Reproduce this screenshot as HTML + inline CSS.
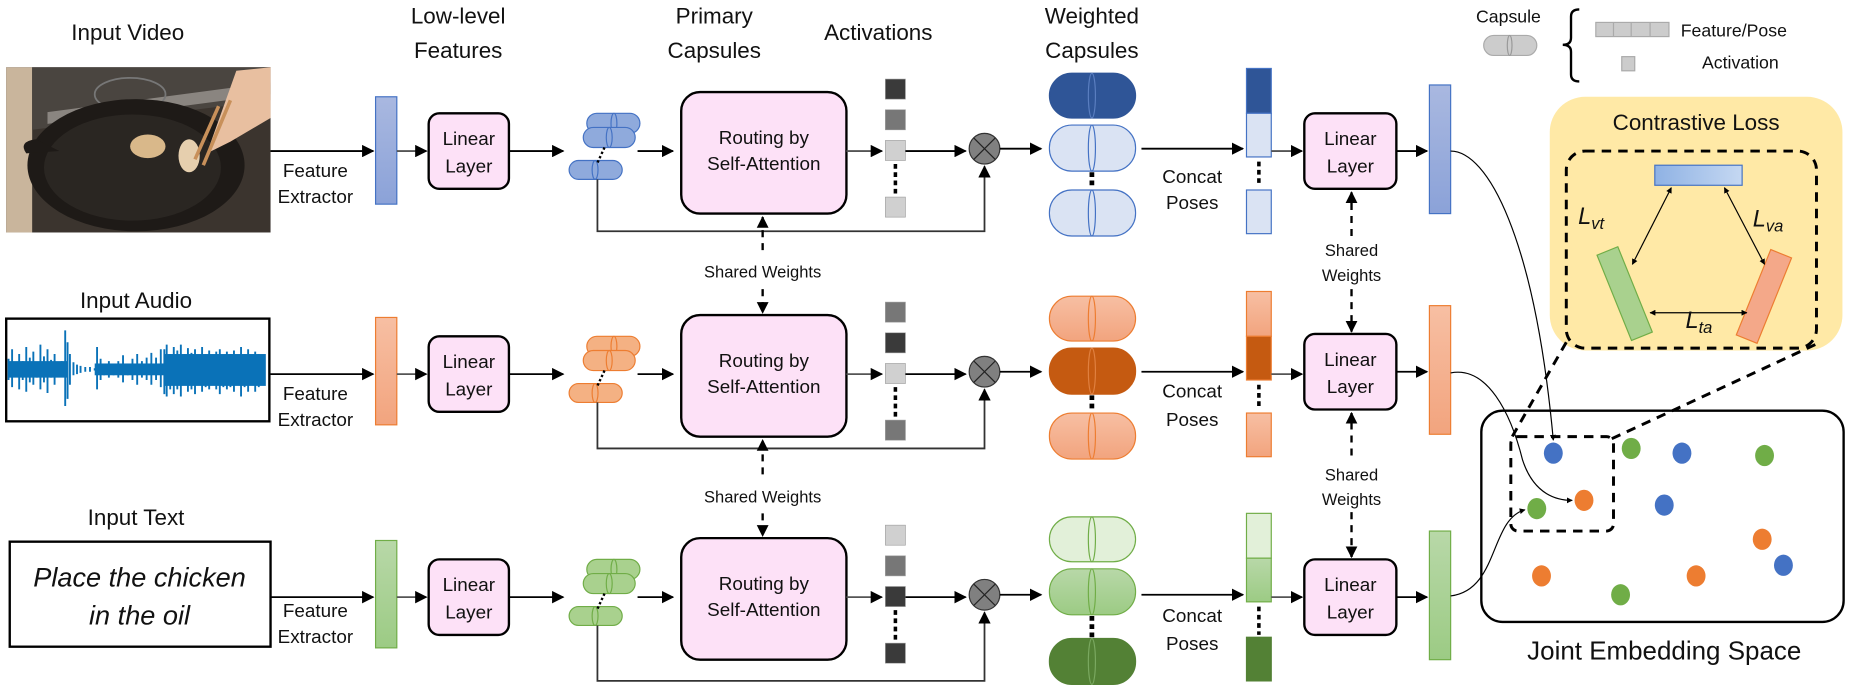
<!DOCTYPE html>
<html><head><meta charset="utf-8"><style>
html,body{margin:0;padding:0;background:#fff;width:1851px;height:688px;overflow:hidden}
svg{display:block}
text{font-family:"Liberation Sans",sans-serif;fill:#111}
</style></head><body>
<svg width="1851" height="688" viewBox="0 0 1568 583" xmlns="http://www.w3.org/2000/svg">
<defs>
<marker id="a" viewBox="0 0 10 10" refX="9" refY="5" markerWidth="7" markerHeight="7" orient="auto-start-reverse"><path d="M0,0L10,5L0,10z" fill="#000"/></marker>
<marker id="s" viewBox="0 0 10 10" refX="9" refY="5" markerWidth="5" markerHeight="5" orient="auto-start-reverse"><path d="M0,0L10,5L0,10z" fill="#000"/></marker>
<linearGradient id="gb" x1="0" y1="0" x2="0" y2="1"><stop offset="0" stop-color="#A9B8E0"/><stop offset="1" stop-color="#8BA2D8"/></linearGradient>
<linearGradient id="go" x1="0" y1="0" x2="0" y2="1"><stop offset="0" stop-color="#F7BFA3"/><stop offset="1" stop-color="#F2A47E"/></linearGradient>
<linearGradient id="gg" x1="0" y1="0" x2="0" y2="1"><stop offset="0" stop-color="#B8D8A8"/><stop offset="1" stop-color="#9CCB84"/></linearGradient>
<linearGradient id="gh" x1="0" y1="0" x2="1" y2="0"><stop offset="0" stop-color="#8FB2E4"/><stop offset="1" stop-color="#C5D8F2"/></linearGradient>
</defs>

<g font-size="19" text-anchor="middle">
<text x="108" y="34">Input Video</text>
<text x="388" y="20">Low-level</text><text x="388" y="49">Features</text>
<text x="605" y="20">Primary</text><text x="605" y="49">Capsules</text>
<text x="744" y="34">Activations</text>
<text x="925" y="20">Weighted</text><text x="925" y="49">Capsules</text>
<text x="115" y="261">Input Audio</text>
<text x="115" y="445">Input Text</text>
</g>

<rect x="5" y="57" width="224" height="140" fill="#3b342e"/>
<rect x="5" y="57" width="22" height="140" fill="#c9b59c"/>
<path d="M27 57 L229 57 L229 85 L27 110z" fill="#4a4540"/>
<path d="M40 95 L229 70 L229 80 L40 105z" fill="#8a8580"/>
<ellipse cx="110" cy="80" rx="30" ry="14" fill="none" stroke="#777" stroke-width="1.5"/>
<ellipse cx="115" cy="140" rx="92" ry="56" fill="#1e1a17"/>
<ellipse cx="112" cy="142" rx="75" ry="45" fill="#2a2622"/>
<path d="M22 130 Q15 120 30 118 L50 128z" fill="#1e1a17"/>
<ellipse cx="125" cy="124" rx="15" ry="10" fill="#d9b88a"/>
<ellipse cx="160" cy="132" rx="9" ry="14" fill="#e6cfae"/>
<path d="M175 130 L200 60 L229 57 L229 100 L195 120z" fill="#e8bfa0"/>
<line x1="172" y1="140" x2="195" y2="85" stroke="#c8905a" stroke-width="3"/>
<line x1="165" y1="135" x2="185" y2="90" stroke="#c8905a" stroke-width="3"/>

<rect x="5" y="270" width="223" height="87" fill="#fff" stroke="#000" stroke-width="2"/>
<g stroke="#0A72B8" stroke-width="1.6">
<path d="M7 304V322M10 296V328M13 308V318M16 300V330M19 306V322M22 294V332M25 303V324M28 298V326M31 307V320M34 292V330M37 302V324M40 296V333M43 305V320M46 300V326M49 309V318M52 306V319M55 280V344M57 290V338M59 300V326M62 307V318M65 309V317M68 310V316M72 311V315M76 311V315M80 312V314M82 294V330M85 304V322M88 308V318M92 306V320M96 309V318M100 306V320M104 301V324M108 308V318M112 304V322M116 300V326M120 306V320M124 303V322M128 299V326M132 303V322M136 296V328M139 296V334M141 292V336M144 300V330M147 294V334M150 297V330M153 292V336M156 300V326M159 295V332M162 299V330M165 296V334M168 302V326M171 294V332M174 300V328M177 297V330M180 302V326M183 298V330M186 296V334M189 302V328M192 298V330M195 300V328M198 297V332M201 302V326M204 294V336M207 300V328M210 296V332M213 302V326M216 298V332M219 300V328M222 302V324"/>
</g>
<rect x="139" y="300" width="86" height="27" fill="#0A72B8"/>
<rect x="7" y="306" width="50" height="14" fill="#0A72B8"/>
<rect x="80" y="308" width="60" height="10" fill="#0A72B8"/>

<rect x="8" y="459" width="221" height="89" fill="#fff" stroke="#000" stroke-width="2"/>
<g font-size="23" font-style="italic" text-anchor="middle"><text x="118" y="497">Place the chicken</text><text x="118" y="529">in the oil</text></g>

<g font-size="16" text-anchor="middle">
<g>
<line x1="229" y1="128" x2="316" y2="128" stroke="#000" stroke-width="1.5" marker-end="url(#a)"/>
<text x="267" y="150">Feature</text><text x="267" y="172">Extractor</text>
<rect x="318" y="82" width="18" height="91" fill="url(#gb)" stroke="#4472C4"/>
<line x1="336" y1="128" x2="361" y2="128" stroke="#555" stroke-width="1.5" marker-end="url(#a)"/>
<rect x="363" y="96" width="68" height="64" rx="9" fill="#FDE1F7" stroke="#000" stroke-width="2"/>
<text x="397" y="123">Linear</text><text x="397" y="146">Layer</text>
<line x1="431" y1="128" x2="477" y2="128" stroke="#000" stroke-width="1.5" marker-end="url(#a)"/>
<rect x="497" y="96" width="45" height="17" rx="8.5" fill="#8FAADC" stroke="#4472C4"/><ellipse cx="520" cy="104.5" rx="2.5" ry="8.5" fill="none" stroke="#4472C4"/>
<rect x="494" y="108" width="44" height="17" rx="8.5" fill="#8FAADC" stroke="#4472C4"/><ellipse cx="516" cy="116.5" rx="2.5" ry="8.5" fill="none" stroke="#4472C4"/>
<rect x="482" y="136" width="45" height="16" rx="8" fill="#8FAADC" stroke="#4472C4"/><ellipse cx="504" cy="144" rx="2.5" ry="8" fill="none" stroke="#4472C4"/>
<line x1="512" y1="125" x2="506" y2="138" stroke="#000" stroke-width="2" stroke-dasharray="2 2"/>
<line x1="540" y1="128" x2="570" y2="128" stroke="#000" stroke-width="1.5" marker-end="url(#a)"/>
<rect x="577" y="78" width="140" height="103" rx="16" fill="#FDE1F7" stroke="#000" stroke-width="2"/>
<text x="647" y="122">Routing by</text><text x="647" y="144">Self-Attention</text>
<line x1="717" y1="128" x2="747" y2="128" stroke="#555" stroke-width="1.5" marker-end="url(#a)"/>
<rect x="750" y="67" width="17" height="17" fill="#3a3a3a" stroke="#999" stroke-width=".5"/>
<rect x="750" y="93" width="17" height="17" fill="#777" stroke="#999" stroke-width=".5"/>
<rect x="750" y="119" width="17" height="17" fill="#d0d0d0" stroke="#999" stroke-width=".5"/>
<line x1="758.5" y1="139" x2="758.5" y2="164" stroke="#000" stroke-width="3" stroke-dasharray="4 3"/>
<rect x="750" y="167" width="17" height="17" fill="#d0d0d0" stroke="#999" stroke-width=".5"/>
<line x1="767" y1="128" x2="818" y2="128" stroke="#000" stroke-width="1.5" marker-end="url(#a)"/>
<circle cx="834" cy="126" r="13" fill="#808080" stroke="#333"/><path d="M825 117L843 135M843 117L825 135" stroke="#222" stroke-width="1"/>
<polyline points="506,152 506,196 834,196 834,141" fill="none" stroke="#333" stroke-width="1.5" marker-end="url(#a)"/>
<line x1="847" y1="126" x2="882" y2="126" stroke="#000" stroke-width="1.5" marker-end="url(#a)"/>
<rect x="889" y="62" width="73" height="38" rx="19" fill="#2F5597" stroke="#2F5597"/><ellipse cx="925" cy="81" rx="3" ry="19" fill="none" stroke="#5a7ec0"/>
<rect x="889" y="106" width="73" height="39" rx="19" fill="#DAE3F3" stroke="#4472C4"/><ellipse cx="925" cy="125.5" rx="3" ry="19.5" fill="none" stroke="#4472C4"/>
<line x1="925" y1="146" x2="925" y2="160" stroke="#000" stroke-width="4" stroke-dasharray="4 3"/>
<rect x="889" y="161" width="73" height="39" rx="19" fill="#DAE3F3" stroke="#4472C4"/><ellipse cx="925" cy="180.5" rx="3" ry="19.5" fill="none" stroke="#4472C4"/>
<text x="1010" y="155">Concat</text><text x="1010" y="177">Poses</text>
<line x1="967" y1="126" x2="1053" y2="126" stroke="#000" stroke-width="1.5" marker-end="url(#a)"/>
<rect x="1056" y="58" width="21" height="38" fill="#2F5597" stroke="#4472C4"/>
<rect x="1056" y="96" width="21" height="37" fill="#DAE3F3" stroke="#4472C4"/>
<line x1="1066.5" y1="137" x2="1066.5" y2="158" stroke="#000" stroke-width="3" stroke-dasharray="4 3"/>
<rect x="1056" y="161" width="21" height="37" fill="#DAE3F3" stroke="#4472C4"/>
<line x1="1077" y1="128" x2="1103" y2="128" stroke="#555" stroke-width="1.5" marker-end="url(#a)"/>
<rect x="1105" y="96" width="78" height="64" rx="9" fill="#FDE1F7" stroke="#000" stroke-width="2"/>
<text x="1144" y="123">Linear</text><text x="1144" y="146">Layer</text>
<line x1="1183" y1="128" x2="1209" y2="128" stroke="#000" stroke-width="1.5" marker-end="url(#a)"/>
<rect x="1211" y="72" width="18" height="109" fill="url(#gb)" stroke="#4472C4"/>
</g>

<g transform="translate(0,189)">
<line x1="229" y1="128" x2="316" y2="128" stroke="#000" stroke-width="1.5" marker-end="url(#a)"/>
<text x="267" y="150">Feature</text><text x="267" y="172">Extractor</text>
<rect x="318" y="80" width="18" height="91" fill="url(#go)" stroke="#ED7D31"/>
<line x1="336" y1="128" x2="361" y2="128" stroke="#555" stroke-width="1.5" marker-end="url(#a)"/>
<rect x="363" y="96" width="68" height="64" rx="9" fill="#FDE1F7" stroke="#000" stroke-width="2"/>
<text x="397" y="123">Linear</text><text x="397" y="146">Layer</text>
<line x1="431" y1="128" x2="477" y2="128" stroke="#000" stroke-width="1.5" marker-end="url(#a)"/>
<rect x="497" y="96" width="45" height="17" rx="8.5" fill="#F4B183" stroke="#ED7D31"/><ellipse cx="520" cy="104.5" rx="2.5" ry="8.5" fill="none" stroke="#ED7D31"/>
<rect x="494" y="108" width="44" height="17" rx="8.5" fill="#F4B183" stroke="#ED7D31"/><ellipse cx="516" cy="116.5" rx="2.5" ry="8.5" fill="none" stroke="#ED7D31"/>
<rect x="482" y="136" width="45" height="16" rx="8" fill="#F4B183" stroke="#ED7D31"/><ellipse cx="504" cy="144" rx="2.5" ry="8" fill="none" stroke="#ED7D31"/>
<line x1="512" y1="125" x2="506" y2="138" stroke="#000" stroke-width="2" stroke-dasharray="2 2"/>
<line x1="540" y1="128" x2="570" y2="128" stroke="#000" stroke-width="1.5" marker-end="url(#a)"/>
<rect x="577" y="78" width="140" height="103" rx="16" fill="#FDE1F7" stroke="#000" stroke-width="2"/>
<text x="647" y="122">Routing by</text><text x="647" y="144">Self-Attention</text>
<line x1="717" y1="128" x2="747" y2="128" stroke="#555" stroke-width="1.5" marker-end="url(#a)"/>
<rect x="750" y="67" width="17" height="17" fill="#777" stroke="#999" stroke-width=".5"/>
<rect x="750" y="93" width="17" height="17" fill="#3a3a3a" stroke="#999" stroke-width=".5"/>
<rect x="750" y="119" width="17" height="17" fill="#d0d0d0" stroke="#999" stroke-width=".5"/>
<line x1="758.5" y1="139" x2="758.5" y2="164" stroke="#000" stroke-width="3" stroke-dasharray="4 3"/>
<rect x="750" y="167" width="17" height="17" fill="#777" stroke="#999" stroke-width=".5"/>
<line x1="767" y1="128" x2="818" y2="128" stroke="#000" stroke-width="1.5" marker-end="url(#a)"/>
<circle cx="834" cy="126" r="13" fill="#808080" stroke="#333"/><path d="M825 117L843 135M843 117L825 135" stroke="#222" stroke-width="1"/>
<polyline points="506,152 506,191 834,191 834,141" fill="none" stroke="#333" stroke-width="1.5" marker-end="url(#a)"/>
<line x1="847" y1="126" x2="882" y2="126" stroke="#000" stroke-width="1.5" marker-end="url(#a)"/>
<rect x="889" y="62" width="73" height="38" rx="19" fill="url(#go)" stroke="#ED7D31"/><ellipse cx="925" cy="81" rx="3" ry="19" fill="none" stroke="#ED7D31"/>
<rect x="889" y="106" width="73" height="39" rx="19" fill="#C55A11" stroke="#C55A11"/><ellipse cx="925" cy="125.5" rx="3" ry="19.5" fill="none" stroke="#E08040"/>
<line x1="925" y1="146" x2="925" y2="160" stroke="#000" stroke-width="4" stroke-dasharray="4 3"/>
<rect x="889" y="161" width="73" height="39" rx="19" fill="url(#go)" stroke="#ED7D31"/><ellipse cx="925" cy="180.5" rx="3" ry="19.5" fill="none" stroke="#ED7D31"/>
<text x="1010" y="148">Concat</text><text x="1010" y="172">Poses</text>
<line x1="967" y1="126" x2="1053" y2="126" stroke="#000" stroke-width="1.5" marker-end="url(#a)"/>
<rect x="1056" y="58" width="21" height="38" fill="url(#go)" stroke="#ED7D31"/>
<rect x="1056" y="96" width="21" height="37" fill="#C55A11" stroke="#ED7D31"/>
<line x1="1066.5" y1="137" x2="1066.5" y2="158" stroke="#000" stroke-width="3" stroke-dasharray="4 3"/>
<rect x="1056" y="161" width="21" height="37" fill="url(#go)" stroke="#ED7D31"/>
<line x1="1077" y1="128" x2="1103" y2="128" stroke="#555" stroke-width="1.5" marker-end="url(#a)"/>
<rect x="1105" y="94" width="78" height="64" rx="9" fill="#FDE1F7" stroke="#000" stroke-width="2"/>
<text x="1144" y="121">Linear</text><text x="1144" y="144">Layer</text>
<line x1="1183" y1="126" x2="1209" y2="126" stroke="#000" stroke-width="1.5" marker-end="url(#a)"/>
<rect x="1211" y="70" width="18" height="109" fill="url(#go)" stroke="#ED7D31"/>
</g>

<g transform="translate(0,378)">
<line x1="229" y1="128" x2="316" y2="128" stroke="#000" stroke-width="1.5" marker-end="url(#a)"/>
<text x="267" y="145">Feature</text><text x="267" y="167">Extractor</text>
<rect x="318" y="80" width="18" height="91" fill="url(#gg)" stroke="#70AD47"/>
<line x1="336" y1="128" x2="361" y2="128" stroke="#555" stroke-width="1.5" marker-end="url(#a)"/>
<rect x="363" y="96" width="68" height="64" rx="9" fill="#FDE1F7" stroke="#000" stroke-width="2"/>
<text x="397" y="123">Linear</text><text x="397" y="146">Layer</text>
<line x1="431" y1="128" x2="477" y2="128" stroke="#000" stroke-width="1.5" marker-end="url(#a)"/>
<rect x="497" y="96" width="45" height="17" rx="8.5" fill="#A9D18E" stroke="#70AD47"/><ellipse cx="520" cy="104.5" rx="2.5" ry="8.5" fill="none" stroke="#70AD47"/>
<rect x="494" y="108" width="44" height="17" rx="8.5" fill="#A9D18E" stroke="#70AD47"/><ellipse cx="516" cy="116.5" rx="2.5" ry="8.5" fill="none" stroke="#70AD47"/>
<rect x="482" y="136" width="45" height="16" rx="8" fill="#A9D18E" stroke="#70AD47"/><ellipse cx="504" cy="144" rx="2.5" ry="8" fill="none" stroke="#70AD47"/>
<line x1="512" y1="125" x2="506" y2="138" stroke="#000" stroke-width="2" stroke-dasharray="2 2"/>
<line x1="540" y1="128" x2="570" y2="128" stroke="#000" stroke-width="1.5" marker-end="url(#a)"/>
<rect x="577" y="78" width="140" height="103" rx="16" fill="#FDE1F7" stroke="#000" stroke-width="2"/>
<text x="647" y="122">Routing by</text><text x="647" y="144">Self-Attention</text>
<line x1="717" y1="128" x2="747" y2="128" stroke="#555" stroke-width="1.5" marker-end="url(#a)"/>
<rect x="750" y="67" width="17" height="17" fill="#d0d0d0" stroke="#999" stroke-width=".5"/>
<rect x="750" y="93" width="17" height="17" fill="#777" stroke="#999" stroke-width=".5"/>
<rect x="750" y="119" width="17" height="17" fill="#3a3a3a" stroke="#999" stroke-width=".5"/>
<line x1="758.5" y1="139" x2="758.5" y2="164" stroke="#000" stroke-width="3" stroke-dasharray="4 3"/>
<rect x="750" y="167" width="17" height="17" fill="#3a3a3a" stroke="#999" stroke-width=".5"/>
<line x1="767" y1="128" x2="818" y2="128" stroke="#000" stroke-width="1.5" marker-end="url(#a)"/>
<circle cx="834" cy="126" r="13" fill="#808080" stroke="#333"/><path d="M825 117L843 135M843 117L825 135" stroke="#222" stroke-width="1"/>
<polyline points="506,152 506,199 834,199 834,141" fill="none" stroke="#333" stroke-width="1.5" marker-end="url(#a)"/>
<line x1="847" y1="126" x2="882" y2="126" stroke="#000" stroke-width="1.5" marker-end="url(#a)"/>
<rect x="889" y="60" width="73" height="38" rx="19" fill="#E2F0D9" stroke="#70AD47"/><ellipse cx="925" cy="79" rx="3" ry="19" fill="none" stroke="#70AD47"/>
<rect x="889" y="104" width="73" height="39" rx="19" fill="url(#gg)" stroke="#70AD47"/><ellipse cx="925" cy="123.5" rx="3" ry="19.5" fill="none" stroke="#70AD47"/>
<line x1="925" y1="144" x2="925" y2="162" stroke="#000" stroke-width="4" stroke-dasharray="4 3"/>
<rect x="889" y="163" width="73" height="39" rx="19" fill="#538135" stroke="#538135"/><ellipse cx="925" cy="182.5" rx="3" ry="19.5" fill="none" stroke="#7aa860"/>
<text x="1010" y="149">Concat</text><text x="1010" y="173">Poses</text>
<line x1="967" y1="126" x2="1053" y2="126" stroke="#000" stroke-width="1.5" marker-end="url(#a)"/>
<rect x="1056" y="57" width="21" height="38" fill="#E2F0D9" stroke="#70AD47"/>
<rect x="1056" y="95" width="21" height="37" fill="url(#gg)" stroke="#70AD47"/>
<line x1="1066.5" y1="136" x2="1066.5" y2="160" stroke="#000" stroke-width="3" stroke-dasharray="4 3"/>
<rect x="1056" y="162" width="21" height="37" fill="#538135" stroke="#538135"/>
<line x1="1077" y1="128" x2="1103" y2="128" stroke="#555" stroke-width="1.5" marker-end="url(#a)"/>
<rect x="1105" y="96" width="78" height="64" rx="9" fill="#FDE1F7" stroke="#000" stroke-width="2"/>
<text x="1144" y="123">Linear</text><text x="1144" y="146">Layer</text>
<line x1="1183" y1="128" x2="1209" y2="128" stroke="#000" stroke-width="1.5" marker-end="url(#a)"/>
<rect x="1211" y="72" width="18" height="109" fill="url(#gg)" stroke="#70AD47"/>
</g>

<g font-size="14">
<text x="646" y="235">Shared Weights</text>
<text x="646" y="426">Shared Weights</text>
<text x="1145" y="217">Shared</text><text x="1145" y="238">Weights</text>
<text x="1145" y="407">Shared</text><text x="1145" y="428">Weights</text>
</g>
</g>
<g stroke="#000" stroke-width="2" fill="none">
<line x1="646" y1="212" x2="646" y2="184" stroke-dasharray="6 5" marker-end="url(#s)"/>
<line x1="646" y1="245" x2="646" y2="265" stroke-dasharray="6 5" marker-end="url(#s)"/>
<line x1="646" y1="402" x2="646" y2="373" stroke-dasharray="6 5" marker-end="url(#s)"/>
<line x1="646" y1="435" x2="646" y2="454" stroke-dasharray="6 5" marker-end="url(#s)"/>
<line x1="1145" y1="200" x2="1145" y2="163" stroke-dasharray="6 5" marker-end="url(#s)"/>
<line x1="1145" y1="245" x2="1145" y2="281" stroke-dasharray="6 5" marker-end="url(#s)"/>
<line x1="1145" y1="386" x2="1145" y2="350" stroke-dasharray="6 5" marker-end="url(#s)"/>
<line x1="1145" y1="434" x2="1145" y2="472" stroke-dasharray="6 5" marker-end="url(#s)"/>
</g>

<!-- Legend -->
<text x="1278" y="19" font-size="15" text-anchor="middle">Capsule</text>
<rect x="1257" y="30" width="45" height="17" rx="8.5" fill="#ccc" stroke="#aaa"/><ellipse cx="1279" cy="38.5" rx="2" ry="8.5" fill="none" stroke="#999"/>
<path d="M1338 8 Q1331 8 1331 14 V32 Q1331 38 1324 38 Q1331 38 1331 44 V63 Q1331 69 1338 69" fill="none" stroke="#000" stroke-width="2"/>
<rect x="1352" y="19" width="62" height="12" fill="#ccc" stroke="#aaa"/>
<path d="M1367 19V31M1382 19V31M1398 19V31" stroke="#aaa"/>
<text x="1424" y="31" font-size="15">Feature/Pose</text>
<rect x="1374" y="48" width="11" height="12" fill="#ccc" stroke="#aaa"/>
<text x="1442" y="58" font-size="15">Activation</text>

<rect x="1313" y="82" width="248" height="215" rx="30" fill="#FFE9A6"/>
<text x="1437" y="110" font-size="19" text-anchor="middle">Contrastive Loss</text>
<rect x="1327" y="128" width="212" height="167" rx="16" fill="none" stroke="#000" stroke-width="2.5" stroke-dasharray="8 6"/>
<rect x="1402" y="140" width="74" height="17" fill="url(#gh)" stroke="#4472C4"/>
<rect x="1367" y="210" width="19" height="78" fill="#A9D18E" stroke="#70AD47" transform="rotate(-22 1376 249)"/>
<rect x="1485" y="212" width="19" height="78" fill="#F4A889" stroke="#ED7D31" transform="rotate(22 1494 251)"/>
<g stroke="#000" stroke-width="1" marker-start="url(#s)" marker-end="url(#s)">
<line x1="1416" y1="159" x2="1383" y2="224"/>
<line x1="1461" y1="159" x2="1495" y2="224"/>
<line x1="1398" y1="265" x2="1480" y2="265"/>
</g>
<g font-family="Liberation Serif" font-style="italic" font-size="20">
<text x="1337" y="190">L<tspan font-size="14" dy="4">vt</tspan></text>
<text x="1485" y="192">L<tspan font-size="14" dy="4">va</tspan></text>
<text x="1428" y="278">L<tspan font-size="14" dy="4">ta</tspan></text>
</g>

<rect x="1255" y="348" width="307" height="179" rx="18" fill="#fff" stroke="#000" stroke-width="2"/>
<text x="1410" y="559" font-size="22" text-anchor="middle">Joint Embedding Space</text>
<rect x="1280" y="370" width="87" height="80" rx="6" fill="none" stroke="#000" stroke-width="2.5" stroke-dasharray="8 6"/>
<g stroke="#000" stroke-width="2.5" stroke-dasharray="8 6"><line x1="1327" y1="290" x2="1280" y2="372"/><line x1="1538" y1="292" x2="1365" y2="372"/></g>
<g>
<ellipse cx="1316" cy="384" rx="8" ry="9" fill="#4472C4"/>
<ellipse cx="1382" cy="380" rx="8" ry="9" fill="#70AD47"/>
<ellipse cx="1425" cy="384" rx="8" ry="9" fill="#4472C4"/>
<ellipse cx="1495" cy="386" rx="8" ry="9" fill="#70AD47"/>
<ellipse cx="1342" cy="424" rx="8" ry="9" fill="#ED7D31"/>
<ellipse cx="1302" cy="431" rx="8" ry="9" fill="#70AD47"/>
<ellipse cx="1410" cy="428" rx="8" ry="9" fill="#4472C4"/>
<ellipse cx="1493" cy="457" rx="8" ry="9" fill="#ED7D31"/>
<ellipse cx="1511" cy="479" rx="8" ry="9" fill="#4472C4"/>
<ellipse cx="1306" cy="488" rx="8" ry="9" fill="#ED7D31"/>
<ellipse cx="1373" cy="504" rx="8" ry="9" fill="#70AD47"/>
<ellipse cx="1437" cy="488" rx="8" ry="9" fill="#ED7D31"/>
</g>
<g fill="none" stroke="#000" stroke-width="1">
<path d="M1229 128 C1260 128 1300 200 1316 373" marker-end="url(#s)"/>
<path d="M1229 316 C1260 310 1280 350 1290 390 C1300 420 1320 424 1332 424" marker-end="url(#s)"/>
<path d="M1229 505 C1270 500 1262 440 1292 432" marker-end="url(#s)"/>
</g>
</svg>
</body></html>
